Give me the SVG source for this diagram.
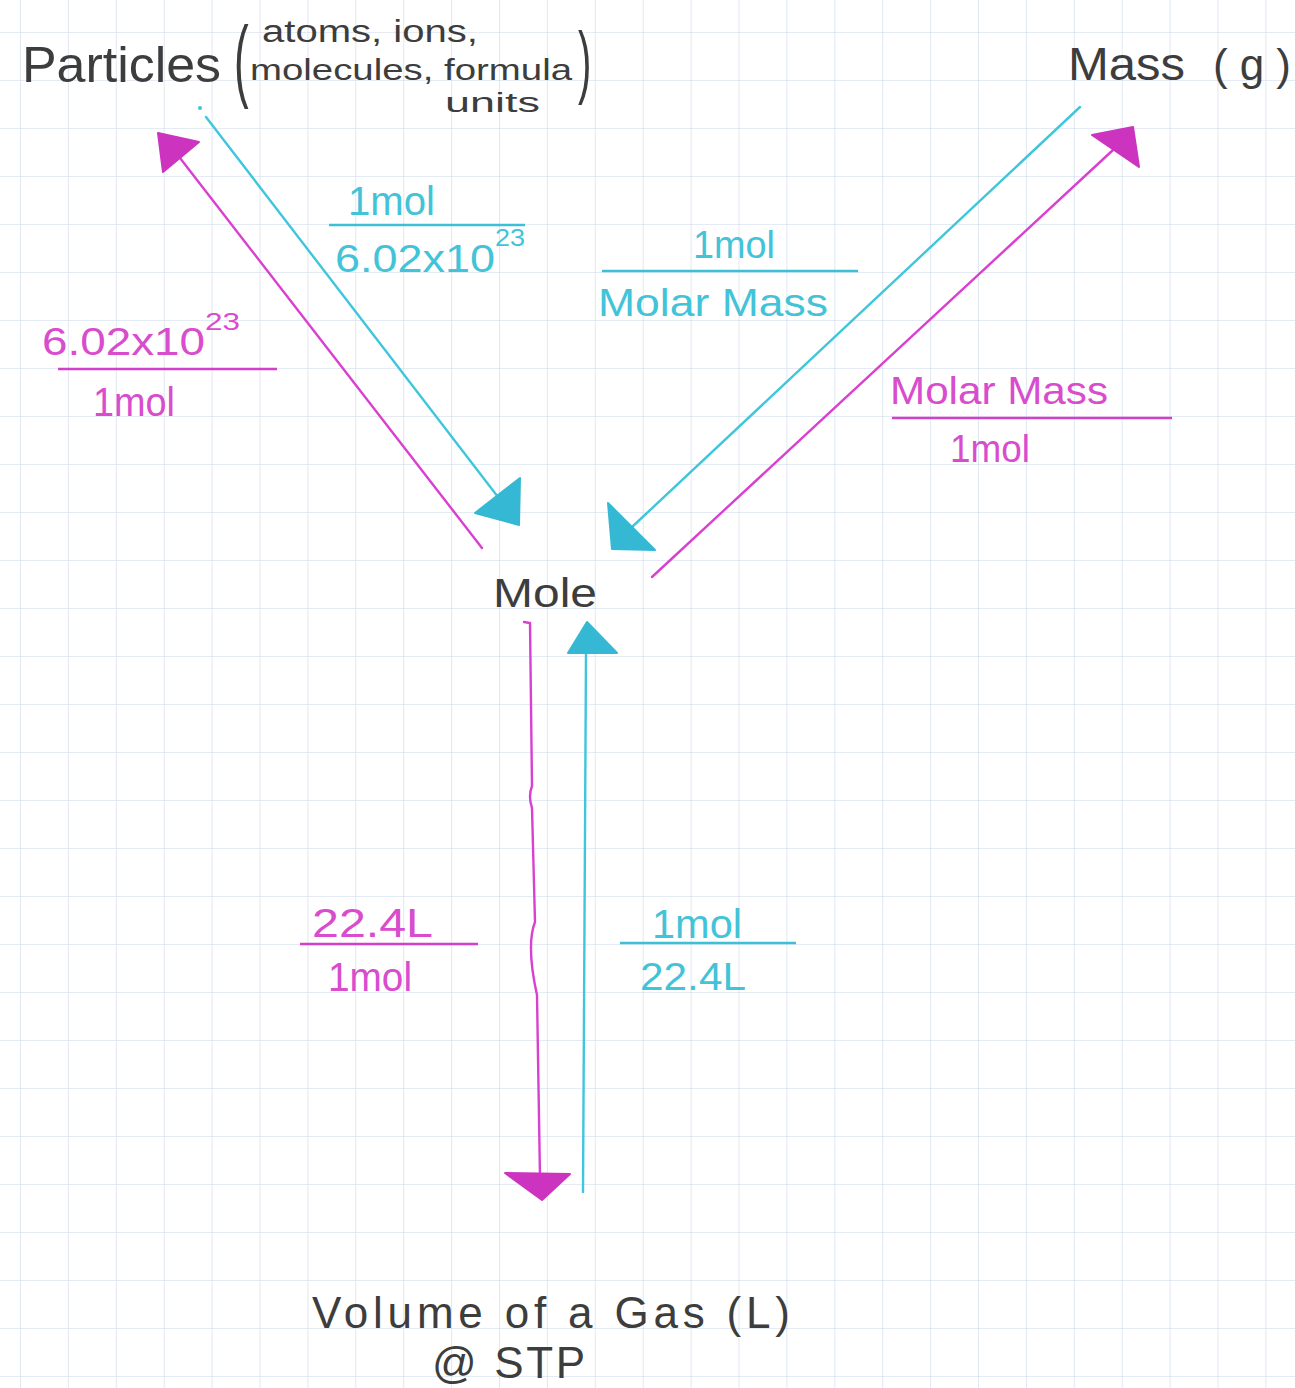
<svg xmlns="http://www.w3.org/2000/svg" width="1295" height="1388" viewBox="0 0 1295 1388">
  <defs>
    <pattern id="grid" x="20" y="32" width="47.9" height="48" patternUnits="userSpaceOnUse">
      <path d="M0,0 V48 M0,0 H47.9" fill="none" stroke="#ccd8ea" stroke-width="1.2"/>
    </pattern>
    <style>
      text { font-family: "Liberation Sans", Arial, sans-serif; }
      .ink { fill: #3d3d3d; }
      .mg { fill: #d84ccd; }
      .cy { fill: #43c3d8; }
      .mgl { stroke: #d940d0; stroke-width: 2.4; fill: none; stroke-linecap: round; }
      .cyl { stroke: #3fc6dc; stroke-width: 2.4; fill: none; stroke-linecap: round; }
      .mgh { fill: #cc34bf; stroke: #cc34bf; stroke-width: 2; stroke-linejoin: round; }
      .cyh { fill: #35b8d4; stroke: #35b8d4; stroke-width: 2; stroke-linejoin: round; }
      .bar-m { stroke: #d23fc8; stroke-width: 2.6; }
      .bar-c { stroke: #3cc0d6; stroke-width: 2.6; }
    </style>
  </defs>
  <rect width="1295" height="1388" fill="#ffffff"/>
  <rect width="1295" height="1388" fill="url(#grid)"/>

  <g id="node-particles" class="ink">
    <text x="22" y="82" font-size="50" textLength="199" lengthAdjust="spacingAndGlyphs">Particles</text>
    <text x="0" y="0" font-size="44" transform="translate(234,90) scale(1,2.05)">(</text>
    <text x="262" y="42" font-size="31" textLength="216" lengthAdjust="spacingAndGlyphs">atoms, ions,</text>
    <text x="250" y="80" font-size="30" textLength="322" lengthAdjust="spacingAndGlyphs">molecules, formula</text>
    <text x="445" y="112" font-size="27" textLength="95" lengthAdjust="spacingAndGlyphs">units</text>
    <text x="0" y="0" font-size="40" transform="translate(578,88) scale(1,2.0)">)</text>
  </g>

  <g id="node-mass" class="ink">
    <text x="1068" y="80" font-size="46" textLength="117" lengthAdjust="spacingAndGlyphs">Mass</text>
    <text x="1213" y="80" font-size="44" textLength="78" lengthAdjust="spacing">(g)</text>
  </g>

  <g id="node-mole" class="ink">
    <text x="493" y="607" font-size="41" textLength="104" lengthAdjust="spacingAndGlyphs">Mole</text>
  </g>

  <g id="node-volume" class="ink">
    <text x="312" y="1328" font-size="44" textLength="478" lengthAdjust="spacing">Volume of a Gas (L)</text>
    <text x="432" y="1378" font-size="44" textLength="153" lengthAdjust="spacing">@ STP</text>
  </g>

  <g id="connectors">
    <g id="mole-to-particles">
      <line class="mgl" x1="482" y1="548" x2="180" y2="158"/>
      <polygon class="mgh" points="158,133 199,142 163,172"/>
      <text class="mg" x="42" y="355" font-size="38" textLength="163" lengthAdjust="spacingAndGlyphs">6.02x10</text>
      <text class="mg" x="205" y="330" font-size="24" textLength="35" lengthAdjust="spacingAndGlyphs">23</text>
      <line class="bar-m" x1="58" y1="369" x2="277" y2="369"/>
      <text class="mg" x="93" y="416" font-size="40" textLength="82" lengthAdjust="spacingAndGlyphs">1mol</text>
    </g>
    <g id="particles-to-mole">
      <circle cx="200" cy="108" r="2" fill="#3fc6dc"/>
      <line class="cyl" x1="206" y1="117" x2="498" y2="497"/>
      <polygon class="cyh" points="520,478 475,513 519,525"/>
      <text class="cy" x="348" y="215" font-size="40" textLength="87" lengthAdjust="spacingAndGlyphs">1mol</text>
      <line class="bar-c" x1="329" y1="225" x2="525" y2="225"/>
      <text class="cy" x="335" y="272" font-size="38" textLength="160" lengthAdjust="spacingAndGlyphs">6.02x10</text>
      <text class="cy" x="495" y="246" font-size="24" textLength="30" lengthAdjust="spacingAndGlyphs">23</text>
    </g>
    <g id="mass-to-mole">
      <line class="cyl" x1="1080" y1="107" x2="632" y2="527"/>
      <polygon class="cyh" points="608,503 612,549 655,550"/>
      <text class="cy" x="693" y="258" font-size="38" textLength="82" lengthAdjust="spacingAndGlyphs">1mol</text>
      <line class="bar-c" x1="602" y1="271" x2="858" y2="271"/>
      <text class="cy" x="598" y="316" font-size="38" textLength="230" lengthAdjust="spacingAndGlyphs">Molar Mass</text>
    </g>
    <g id="mole-to-mass">
      <line class="mgl" x1="652" y1="577" x2="1113" y2="150"/>
      <polygon class="mgh" points="1092,135 1133,127 1139,167"/>
      <text class="mg" x="890" y="404" font-size="38" textLength="218" lengthAdjust="spacingAndGlyphs">Molar Mass</text>
      <line class="bar-m" x1="892" y1="418" x2="1172" y2="418"/>
      <text class="mg" x="950" y="462" font-size="38" textLength="80" lengthAdjust="spacingAndGlyphs">1mol</text>
    </g>
    <g id="mole-to-volume">
      <path class="mgl" d="M524,622 L530,623 L532,786 Q528,796 532,808 L535,922 Q526,945 537,995 L540,1178"/>
      <polygon class="mgh" points="505,1173 570,1174 542,1200"/>
      <text class="mg" x="312" y="937" font-size="40" textLength="121" lengthAdjust="spacingAndGlyphs">22.4L</text>
      <line class="bar-m" x1="300" y1="944" x2="478" y2="944"/>
      <text class="mg" x="328" y="991" font-size="40" textLength="84" lengthAdjust="spacingAndGlyphs">1mol</text>
    </g>
    <g id="volume-to-mole">
      <line class="cyl" x1="583" y1="1192" x2="586" y2="652"/>
      <polygon class="cyh" points="587,622 568,653 617,653"/>
      <text class="cy" x="652" y="938" font-size="40" textLength="90" lengthAdjust="spacingAndGlyphs">1mol</text>
      <line class="bar-c" x1="620" y1="943" x2="796" y2="943"/>
      <text class="cy" x="640" y="990" font-size="38" textLength="106" lengthAdjust="spacingAndGlyphs">22.4L</text>
    </g>
  </g>
</svg>
